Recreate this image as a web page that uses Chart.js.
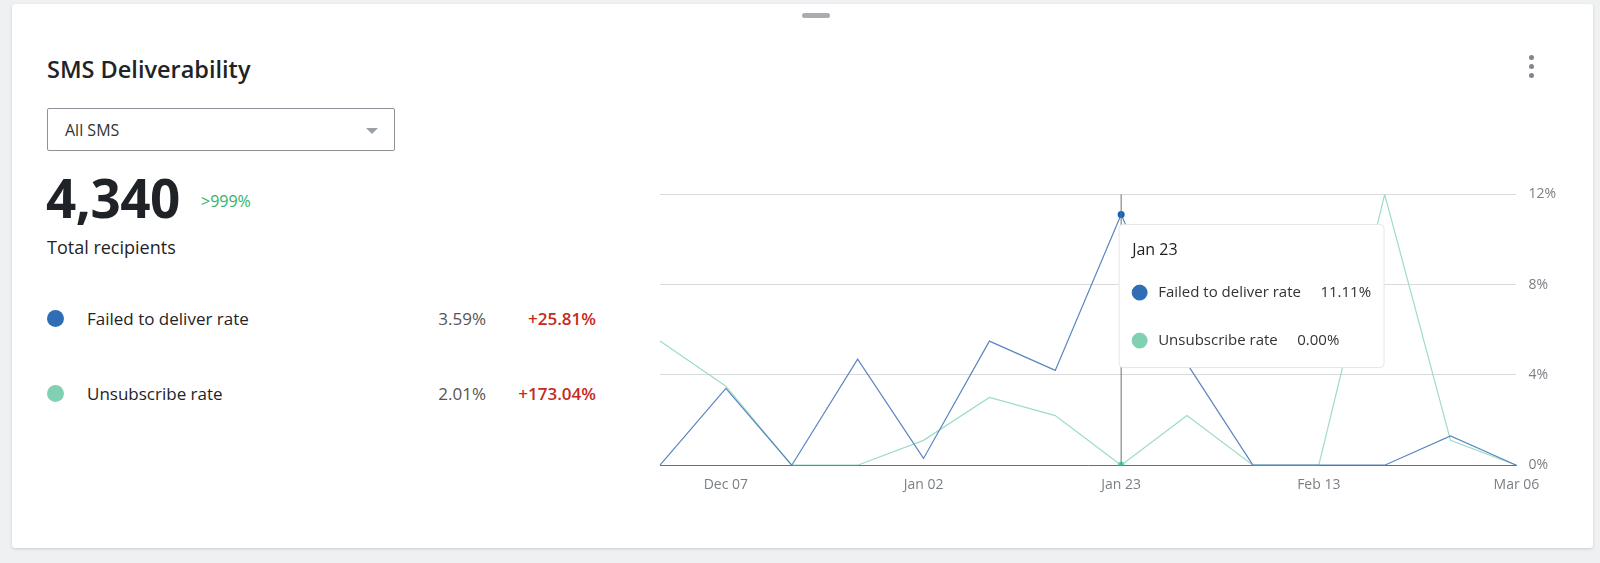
<!DOCTYPE html>
<html><head><meta charset="utf-8">
<script src="https://cdn.jsdelivr.net/npm/chart.js@4"></script>
<style>
body{margin:0;background:#eef0f2;font-family:"Open Sans",Lato,sans-serif;color:#1f2328;}
.card{position:absolute;left:12px;top:4px;width:1581px;height:544px;background:#fff;border-radius:3px;box-shadow:0 1px 3px rgba(0,0,0,.15);}
.handle{position:absolute;left:790px;top:9px;width:28px;height:5px;border-radius:3px;background:#a9adb2;}
.title{position:absolute;left:35px;top:49px;font-size:23.5px;font-weight:600;}
.dots{position:absolute;left:1517px;top:51px;width:5px;}
.dots i{display:block;width:5px;height:5px;border-radius:50%;background:#80868c;margin-bottom:4px;}
.sel{position:absolute;left:35px;top:104px;width:348px;height:43px;border:1px solid #8d9298;border-radius:2px;font-size:16px;line-height:43px;padding-left:17px;box-sizing:border-box;color:#333;}
.sel:after{content:"";position:absolute;right:16px;top:19px;border:6px solid transparent;border-top:6px solid #9aa0a6;}
.big{position:absolute;left:34px;top:157px;font-size:53px;font-weight:700;letter-spacing:-0.5px;}
.pct{position:absolute;left:189px;top:186px;font-size:16px;color:#2fb36a;}
.tot{position:absolute;left:35px;top:231px;font-size:18px;}
.row{position:absolute;left:35px;font-size:17px;width:551px;}
.row .d{position:absolute;left:0;top:3px;width:17px;height:17px;border-radius:50%;}
.row .n{position:absolute;left:40px;}
.row .v{position:absolute;right:112px;color:#555;}
.row .c{position:absolute;right:2px;color:#c62a1d;font-weight:600;}
#wrap{position:absolute;left:638px;top:170px;width:918px;height:322px;}
</style></head><body>
<div class="card">
<div class="handle"></div>
<div class="title">SMS Deliverability</div>
<div class="dots"><i></i><i></i><i></i></div>
<div class="sel">All SMS</div>
<div class="big">4,340</div><div class="pct">&gt;999%</div>
<div class="tot">Total recipients</div>
<div class="row" style="top:303px"><span class="d" style="background:#2f6db5"></span><span class="n">Failed to deliver rate</span><span class="v">3.59%</span><span class="c">+25.81%</span></div>
<div class="row" style="top:378px"><span class="d" style="background:#7fd1b2"></span><span class="n">Unsubscribe rate</span><span class="v">2.01%</span><span class="c">+173.04%</span></div>
<div id="wrap"><canvas id="c"></canvas></div>
</div>
<script>
const labels=["Dec 05","Dec 07","Dec 19","Dec 26","Jan 02","Jan 09","Jan 16","Jan 23","Jan 30","Feb 06","Feb 13","Feb 20","Feb 27","Mar 06"];
const shownTicks=["Dec 07","Jan 02","Jan 23","Feb 13","Mar 06"];
const failed=[0,3.4,0,4.7,0.3,5.5,4.2,11.11,4.5,0,0,0,1.3,0];
const unsub=[5.5,3.5,0,0,1.1,3.0,2.2,0,2.2,0,0,12,1.1,0];
const yTicks=[0,4,8,12];
const activeIndex=7;

Chart.Tooltip.positioners.fixedTop=function(items){
  if(!items.length) return false;
  return {x:items[0].element.x+2,y:this.chart.chartArea.top+28};
};
const vline={id:'vline',afterDatasetsDraw(ch){
  const x=ch.scales.x.getPixelForValue(activeIndex),a=ch.chartArea,c=ch.ctx;
  c.save();c.strokeStyle='#6b7075';c.lineWidth=1;c.beginPath();c.moveTo(x,a.top);c.lineTo(x,a.bottom);c.stroke();c.restore();
}};
const ch=new Chart(document.getElementById('c'),{type:'line',
data:{labels,datasets:[
 {label:'Failed to deliver rate',data:failed,borderColor:'#5a86bf',backgroundColor:'#2f6db5',borderWidth:1.2,tension:0,pointRadius:0,pointHoverRadius:3.5,pointHoverBorderWidth:0},
 {label:'Unsubscribe rate',data:unsub,borderColor:'#9ddcc4',backgroundColor:'#7fd1b2',borderWidth:1.2,tension:0,pointRadius:0,pointHoverRadius:3.5,pointHoverBorderWidth:0}]},
options:{responsive:true,maintainAspectRatio:false,animation:false,
 layout:{padding:{left:10,top:10,right:0,bottom:0}},
 interaction:{mode:'index',intersect:false},
 events:[],
 scales:{
  x:{grid:{display:false},border:{color:'#6b7075'},ticks:{autoSkip:false,maxRotation:0,color:'#7a7f85',font:{size:14,family:'Open Sans'},
     callback:(v,i)=>i===0?'':(shownTicks.includes(labels[i])?labels[i]:'')}},
  y:{position:'right',min:0,max:12,afterBuildTicks:s=>{s.ticks=yTicks.map(v=>({value:v}));},
     grid:{color:'#d8dadc',drawTicks:false},border:{display:false},
     ticks:{padding:12,color:'#7a7f85',font:{size:14,family:'Open Sans'},callback:v=>v+'%'}}},
 plugins:{legend:{display:false},
  tooltip:{position:'fixedTop',xAlign:'left',yAlign:'top',caretSize:0,backgroundColor:'#fff',borderColor:'#e3e5e7',borderWidth:1,
   titleColor:'#222',bodyColor:'#333',titleFont:{size:16,weight:'normal',family:'Open Sans'},bodyFont:{size:15,family:'Open Sans'},
   padding:{left:13,right:13,top:16,bottom:18},titleMarginBottom:24,bodySpacing:30,cornerRadius:4,usePointStyle:true,boxPadding:9,
   callbacks:{label:c=>c.dataset.label+'     '+c.parsed.y.toFixed(2)+'%',
     labelColor:c=>({borderColor:c.dataset.backgroundColor,backgroundColor:c.dataset.backgroundColor}),
     labelPointStyle:()=>({pointStyle:'circle',rotation:0})}}}},
plugins:[vline]});
const act=[{datasetIndex:0,index:activeIndex},{datasetIndex:1,index:activeIndex}];
ch.setActiveElements(act);
ch.tooltip.setActiveElements(act,{x:0,y:0});
ch.update();
</script>
</body></html>
